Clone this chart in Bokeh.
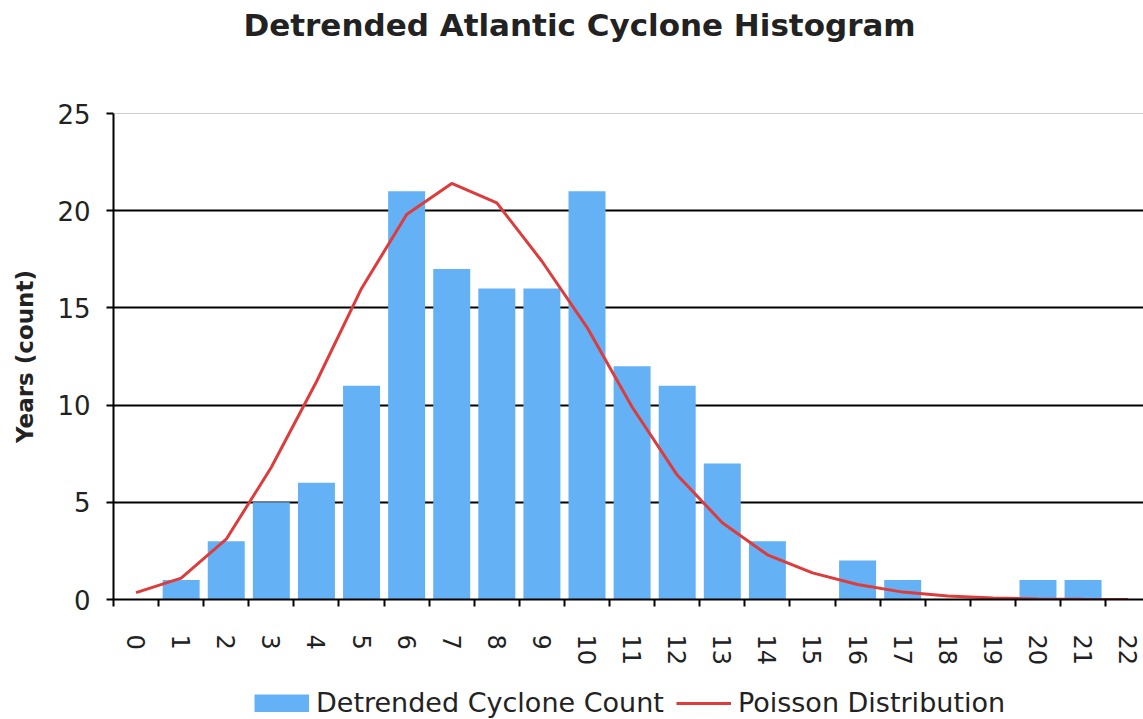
from bokeh.plotting import figure
from bokeh.layouts import column
from bokeh.models import Range1d, FixedTicker, Span, Legend, LegendItem, ColumnDataSource
from bokeh.embed import file_html
from bokeh.resources import INLINE

# ---- data ----
categories = [0, 1, 2, 3, 4, 5, 6, 7, 8, 9, 10, 11, 12, 13, 14, 15, 16, 17, 18, 19, 20, 21, 22]
tick_labels = ["0", "1", "2", "3", "4", "5", "6", "7", "8", "9", "10", "11",
               "12", "13", "14", "15", "16", "17", "18", "19", "20", "21", "22"]
cyclone_count = [0, 1, 3, 5, 6, 11, 21, 17, 16, 16, 21, 12, 11, 7, 3, 0, 2, 1, 0, 0, 1, 1, 0]
poisson = [0.35, 1.1, 3.1, 6.8, 11.2, 16.0, 19.8, 21.4, 20.4, 17.4, 14.0, 9.9,
           6.4, 3.95, 2.3, 1.37, 0.77, 0.38, 0.18, 0.08, 0.03, 0.01, 0.0]
y_ticks = [0, 5, 10, 15, 20, 25]
grid_levels = [5, 10, 15, 20]
series_names = ["Detrended Cyclone Count", "Poisson Distribution"]
chart_title = "Detrended Atlantic Cyclone Histogram"

FONT = "DejaVu Sans"
TXT = "#222222"
BAR = "#64B2F5"
RED = "#DD3C3C"

src = ColumnDataSource(dict(x=categories, count=cyclone_count, poisson=poisson))


def blank(fig):
    fig.min_border_left = 0
    fig.min_border_right = 0
    fig.min_border_bottom = 0
    fig.outline_line_color = None
    fig.grid.visible = False
    fig.border_fill_color = "white"
    fig.background_fill_color = "white"


# ---- title strip ----
tf = figure(width=1143, height=60, output_backend="svg", toolbar_location=None,
            x_range=Range1d(0, 1), y_range=Range1d(0, 1),
            x_axis_location=None, y_axis_location=None)
blank(tf)
tf.min_border_top = 42
tf.title.text = chart_title
tf.title.text_font = FONT
tf.title.text_font_size = "31px"
tf.title.text_font_style = "bold"
tf.title.text_color = TXT
tf.title.align = "left"
tf.title.offset = 130
tf.title.standoff = 0

# ---- main chart ----
p = figure(width=1143, height=608, output_backend="svg", toolbar_location=None,
           x_range=Range1d(-0.5, 22.34), y_range=Range1d(0, 25), title_location=None)
p.min_border_left = 113
p.min_border_right = 0
p.min_border_top = 53
p.min_border_bottom = 68
p.outline_line_color = None
p.background_fill_color = "white"
p.border_fill_color = "white"

xa = p.below[0]
ya = p.left[0]

bars = p.vbar(x="x", top="count", width=0.82, source=src,
              fill_color=BAR, line_color=None)
line = p.line(x="x", y="poisson", source=src, line_color=RED, line_width=3)

# grid
p.xgrid.visible = False
p.ygrid.ticker = FixedTicker(ticks=grid_levels)
p.ygrid.grid_line_color = "black"
p.ygrid.grid_line_width = 2
p.add_layout(Span(location=25, dimension="width", line_color="#999999", line_width=1))

# x axis
xa.ticker = FixedTicker(ticks=categories, minor_ticks=[c - 0.5 for c in categories] + [22.5])
xa.major_label_overrides = {c: l for c, l in zip(categories, tick_labels)}
xa.major_tick_out = 0
xa.major_tick_in = 0
xa.minor_tick_out = 7
xa.minor_tick_in = 0
xa.minor_tick_line_color = "black"
xa.minor_tick_line_width = 2
xa.axis_line_color = "black"
xa.axis_line_width = 2
xa.major_label_orientation = "vertical"
xa.major_label_standoff = 28
xa.major_label_text_font = FONT
xa.major_label_text_font_size = "24px"
xa.major_label_text_color = TXT

# y axis
ya.ticker = FixedTicker(ticks=y_ticks)
ya.major_tick_out = 7
ya.major_tick_in = 0
ya.minor_tick_out = 0
ya.minor_tick_in = 0
ya.major_tick_line_color = "black"
ya.major_tick_line_width = 2
ya.axis_line_color = "black"
ya.axis_line_width = 2
ya.major_label_standoff = 16
ya.major_label_text_font = FONT
ya.major_label_text_font_size = "26px"
ya.major_label_text_color = TXT
ya.axis_label = "Years (count)"
ya.axis_label_text_font = FONT
ya.axis_label_text_font_size = "23px"
ya.axis_label_text_font_style = "bold"
ya.axis_label_text_color = TXT
ya.axis_label_standoff = 16

# ---- legend strip below the chart ----
lf = figure(width=1143, height=51, output_backend="svg", toolbar_location=None,
            x_range=Range1d(0, 1), y_range=Range1d(0, 1),
            x_axis_location=None, y_axis_location=None)
blank(lf)
lf.min_border_top = 0

# legend-only renderers (hidden; they just supply the legend glyph styles)
swatch = lf.line(x="x", y="count", source=src, line_color=BAR, line_width=18, visible=False)
redline = lf.line(x="x", y="poisson", source=src, line_color=RED, line_width=3, visible=False)

legend = Legend(items=[LegendItem(label=series_names[0], renderers=[swatch]),
                       LegendItem(label=series_names[1], renderers=[redline])],
                orientation="horizontal", location=(141, 1))
legend.border_line_color = None
legend.background_fill_alpha = 0
legend.glyph_width = 55
legend.glyph_height = 18
legend.label_standoff = 7
legend.spacing = 12
legend.padding = 0
legend.margin = 0
legend.label_text_font = FONT
legend.label_text_font_size = "27px"
legend.label_text_color = TXT
legend.inactive_fill_alpha = 0
lf.add_layout(legend, "center")

layout = column(tf, p, lf, spacing=0)
open("out.html", "w").write(file_html(layout, INLINE))
